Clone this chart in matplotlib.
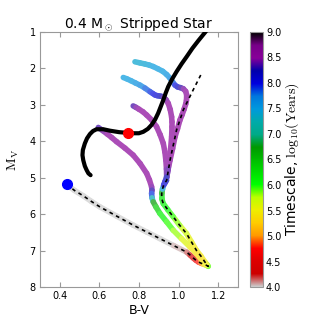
import matplotlib
matplotlib.use("Agg")
import matplotlib.pyplot as plt
import numpy as np
from matplotlib.collections import LineCollection
from matplotlib.colors import Normalize

plt.rcParams["mathtext.fontset"] = "cm"

# --- thick black track (B-V, M_V) ---
black_bv = [0.556, 0.545, 0.536, 0.527, 0.519, 0.515, 0.517, 0.527, 0.538, 0.553, 0.568, 0.586, 0.62,
            0.654, 0.70, 0.743, 0.771, 0.80, 0.822, 0.845, 0.864, 0.882, 0.897, 0.910, 0.923, 0.935,
            0.948, 0.968, 0.99, 1.015, 1.041, 1.07, 1.10, 1.133, 1.15]
black_mv = [4.93, 4.88, 4.79, 4.68, 4.52, 4.38, 4.24, 4.06, 3.92, 3.80, 3.72, 3.67, 3.67,
            3.71, 3.75, 3.77, 3.78, 3.78, 3.74, 3.66, 3.55, 3.40, 3.23, 3.05, 2.87, 2.68,
            2.50, 2.29, 2.09, 1.88, 1.68, 1.45, 1.24, 1.02, 0.9]

# --- coloured tracks: B-V, M_V, log10 timescale ---
t1_bv = [0.78, 0.805, 0.83, 0.852, 0.872, 0.895, 0.92, 0.94, 0.957, 0.970, 0.982, 0.995, 1.010, 1.024, 1.036,
         1.041, 1.040, 1.036, 1.028, 1.018, 1.007, 0.995, 0.982, 0.970, 0.957, 0.948, 0.94, 0.932, 0.925]
t1_mv = [1.82, 1.85, 1.88, 1.91, 1.95, 2.01, 2.08, 2.17, 2.27, 2.37, 2.46, 2.51, 2.53, 2.56, 2.63,
         2.73, 2.88, 2.98, 3.12, 3.27, 3.42, 3.65, 3.88, 4.20, 4.52, 4.75, 4.98, 5.10, 5.20]
t1_c = [7.4, 7.4, 7.4, 7.45, 7.5, 7.5, 7.5, 7.55, 7.6, 7.75, 7.9, 8.05, 8.2, 8.4, 8.5,
        8.5, 8.5, 8.5, 8.5, 8.5, 8.5, 8.5, 8.5, 8.5, 8.5, 8.45, 8.3, 8.1, 8.0]

t2_bv = [0.721, 0.74, 0.76, 0.782, 0.805, 0.83, 0.856, 0.870, 0.881, 0.893, 0.905, 0.915, 0.923, 0.937,
         0.948, 0.958, 0.965, 0.967, 0.967, 0.965, 0.960, 0.953, 0.947, 0.94]
t2_mv = [2.25, 2.29, 2.34, 2.40, 2.46, 2.54, 2.64, 2.69, 2.73, 2.75, 2.76, 2.77, 2.79, 2.86,
         2.96, 3.13, 3.33, 3.47, 3.60, 3.88, 4.20, 4.52, 4.78, 5.00]
t2_c = [7.5, 7.5, 7.5, 7.55, 7.6, 7.75, 7.9, 7.95, 8.0, 8.05, 8.1, 8.2, 8.3, 8.4,
        8.5, 8.5, 8.5, 8.5, 8.5, 8.5, 8.5, 8.5, 8.45, 8.4]

t3_bv = [0.771, 0.785, 0.80, 0.82, 0.839, 0.865, 0.889, 0.907, 0.923, 0.931, 0.936, 0.939, 0.94]
t3_mv = [3.03, 3.07, 3.12, 3.19, 3.28, 3.42, 3.60, 3.82, 4.06, 4.29, 4.52, 4.76, 5.0]
t3_c = [8.3, 8.4, 8.5, 8.5, 8.5, 8.5, 8.5, 8.5, 8.5, 8.5, 8.5, 8.45, 8.4]

t4_bv = [0.595, 0.618, 0.64, 0.663, 0.687, 0.73, 0.771, 0.806, 0.839, 0.853, 0.864, 0.866, 0.864, 0.866,
         0.872, 0.886, 0.906, 0.94, 0.973, 1.015, 1.058, 1.09, 1.117, 1.132, 1.142]
t4_mv = [3.62, 3.71, 3.80, 3.90, 4.01, 4.19, 4.38, 4.61, 4.88, 5.06, 5.25, 5.34, 5.43, 5.55,
         5.66, 5.80, 5.98, 6.21, 6.44, 6.67, 6.90, 7.08, 7.26, 7.34, 7.40]
t4_c = [8.3, 8.4, 8.5, 8.5, 8.5, 8.5, 8.5, 8.5, 8.5, 8.5, 8.5, 8.4, 8.2, 7.6,
        7.0, 6.5, 6.2, 6.0, 5.9, 5.7, 5.5, 5.4, 5.3, 5.4, 5.6]

# stripped star track (gray part, then back up the right branch)
main_bv = [0.435, 0.475, 0.52, 0.56, 0.603, 0.69, 0.771, 0.84, 0.906, 0.975, 1.041, 1.058, 1.074, 1.087,
           1.10, 1.112, 1.125, 1.14, 1.15, 1.143, 1.133, 1.113, 1.09, 1.065, 1.04, 1.005, 0.973, 0.946,
           0.923, 0.915, 0.915, 0.919, 0.925, 0.933, 0.94]
main_mv = [5.18, 5.35, 5.50, 5.65, 5.80, 6.06, 6.30, 6.49, 6.67, 6.86, 7.04, 7.12, 7.20, 7.26,
           7.31, 7.34, 7.37, 7.40, 7.43, 7.38, 7.31, 7.15, 6.99, 6.76, 6.53, 6.30, 6.07, 5.88,
           5.71, 5.57, 5.43, 5.31, 5.20, 5.13, 5.07]
main_c = [4.0, 4.0, 4.0, 4.0, 4.0, 4.0, 4.0, 4.0, 4.0, 4.0, 4.1, 4.2, 4.4, 4.55,
          4.7, 4.85, 5.0, 5.6, 6.0, 5.8, 5.5, 5.45, 5.4, 5.5, 5.6, 5.75, 5.9, 6.0,
          6.1, 6.15, 6.2, 7.0, 7.9, 8.1, 8.3]

# dashed line continuing above the coloured part
dash_bv = main_bv + [0.957, 0.99, 1.024, 1.074, 1.117]
dash_mv = main_mv + [4.52, 3.69, 3.14, 2.59, 2.13]

red_dot = (0.743, 3.77)
blue_dot = (0.435, 5.18)

cmap = plt.get_cmap("nipy_spectral_r")
norm = Normalize(vmin=4.0, vmax=9.0)


def colored_track(ax, bv, mv, c, lw=4.0, fade=0.3):
    pts = np.column_stack([bv, mv])
    segs = np.stack([pts[:-1], pts[1:]], axis=1)
    vals = (np.array(c[:-1]) + np.array(c[1:])) / 2.0
    # washed-out colours instead of alpha so the joints don't show
    cols = cmap(norm(vals))[:, :3] * (1 - fade) + fade
    lc = LineCollection(segs, colors=cols, linewidths=lw,
                        capstyle="round", joinstyle="round", zorder=2)
    ax.add_collection(lc)
    return lc


fig = plt.figure(figsize=(3.19, 3.19), dpi=100)
ax = fig.add_axes([0.125, 0.100, 0.621, 0.800])
cax = fig.add_axes([0.784, 0.100, 0.041, 0.800])

colored_track(ax, main_bv, main_mv, main_c)
colored_track(ax, t4_bv, t4_mv, t4_c)
colored_track(ax, t3_bv, t3_mv, t3_c)
colored_track(ax, t2_bv, t2_mv, t2_c)
colored_track(ax, t1_bv, t1_mv, t1_c)

ax.plot(dash_bv, dash_mv, color="black", lw=1.2, linestyle=(0, (2.2, 2.2)), zorder=3)
ax.plot(black_bv, black_mv, color="black", lw=3.0, solid_capstyle="round",
        solid_joinstyle="round", zorder=4)
ax.plot(*red_dot, "o", color="red", ms=7, mec="red", zorder=5)
ax.plot(*blue_dot, "o", color="blue", ms=7, mec="blue", zorder=5)

ax.set_xlim(0.3, 1.3)
ax.set_ylim(8, 1)
ax.set_xticks([0.4, 0.6, 0.8, 1.0, 1.2])
ax.set_yticks([1, 2, 3, 4, 5, 6, 7, 8])
ax.set_title(r"0.4 M$_\odot$ Stripped Star", fontsize=10, pad=3)
ax.set_xlabel("B-V", fontsize=9, labelpad=2)
ax.set_ylabel(r"$\mathrm{M_V}$", fontsize=10, labelpad=6)
ax.tick_params(direction="in", top=True, right=True, length=3.5, color="0.6",
               labelsize=7, pad=3)
for s in ax.spines.values():
    s.set_color("0.6")

sm = plt.cm.ScalarMappable(cmap=cmap, norm=norm)
cb = fig.colorbar(sm, cax=cax, ticks=np.arange(4.0, 9.01, 0.5))
cb.ax.set_yticklabels([f"{t:.1f}" for t in np.arange(4.0, 9.01, 0.5)])
cb.ax.tick_params(labelsize=7, length=0, pad=2)
cb.outline.set_edgecolor("0.6")
cb.set_label(r"Timescale, $\mathrm{log_{10}(Years)}$", fontsize=10, labelpad=1)

fig.savefig("out.png", dpi=100, facecolor="white")
